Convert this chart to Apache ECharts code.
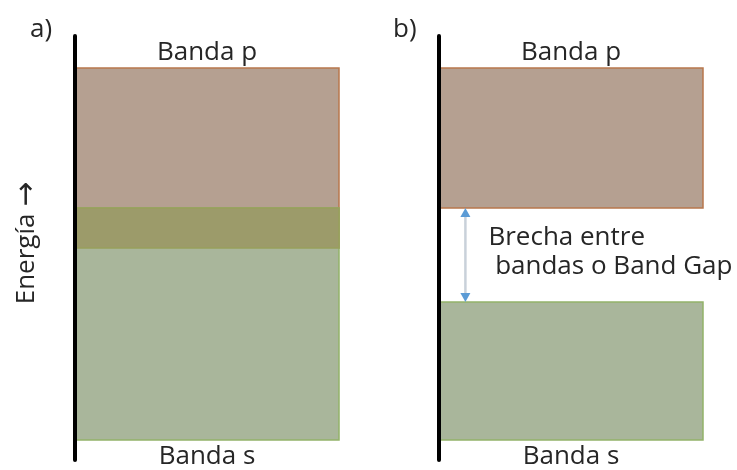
<!DOCTYPE html>
<html lang="es">
<head>
  <meta charset="UTF-8">
  <script src="https://cdn.jsdelivr.net/npm/echarts@6/dist/echarts.min.js"></script>
  <style>
    html, body { margin: 0; background: #fff; }
    #chart { width: 737px; height: 470px; }
  </style>
</head>
<body>
  <div id="chart"></div>
  <script>
    // energy axis runs 0..106 (arbitrary units), bands
    var panelNames = ['a)', 'b)'];
    var bandNames = ['Banda p', 'Banda s'];
    var pBandA = [53, 98];
    var sBandA = [5, 63];
    var pBandB = [63, 98];
    var sBandB = [5, 39.5];
    var gapLabel = 'Brecha entre\n bandas o Band Gap';
    var gapArrowX = 0.1;
    var energyName = 'Energía';

    var FONT = '"Open Sans", "DejaVu Sans", sans-serif';
    var fills = ['#B5A091', '#A9B69B', '#9C9B6A'];
    var strokes = ['#B8774C', '#93B36A', '#98A05C'];

    // kind: 0 = p band, 1 = s band, 2 = overlap, 3 = gap
    function panelData(p, s) {
      var rows = [[p[0], p[1], 0], [s[0], s[1], 1]];
      var lo = Math.max(p[0], s[0]), hi = Math.min(p[1], s[1]);
      if (hi > lo) rows.push([lo, hi, 2]);
      else rows.push([hi, lo, 3]);
      return rows;
    }

    function renderItem(params, api) {
      var lo = api.value(0), hi = api.value(1), kind = api.value(2);
      if (kind === 3) {
        var top = api.coord([gapArrowX, hi]);
        var bot = api.coord([gapArrowX, lo]);
        var x = top[0];
        var y1 = top[1], y2 = bot[1];
        var h = 9, w = 5;
        return {
          type: 'group',
          children: [
            { type: 'line', shape: { x1: x, y1: y1 + 4, x2: x, y2: y2 - 4 },
              style: { stroke: '#C9D1DA', lineWidth: 2.5 } },
            { type: 'polygon', shape: { points: [[x, y1], [x - w, y1 + h], [x + w, y1 + h]] },
              style: { fill: '#5B9BD5' } },
            { type: 'polygon', shape: { points: [[x, y2], [x - w, y2 - h], [x + w, y2 - h]] },
              style: { fill: '#5B9BD5' } },
            { type: 'text', x: x + 23, y: (y1 + y2) / 2 - 3,
              style: { text: gapLabel, font: '26px ' + FONT, fill: '#262626',
                       align: 'left', verticalAlign: 'middle', lineHeight: 29 } }
          ]
        };
      }
      var tl = api.coord([0, hi]);
      var br = api.coord([1, lo]);
      var children = [{
        type: 'rect',
        shape: { x: tl[0], y: tl[1], width: br[0] - tl[0], height: br[1] - tl[1] },
        style: { fill: fills[kind], stroke: strokes[kind], lineWidth: 1.5 }
      }];
      if (kind === 0) {
        children.push({ type: 'text', x: (tl[0] + br[0]) / 2, y: tl[1] - 15,
          style: { text: bandNames[0], font: '26px ' + FONT, fill: '#262626',
                   align: 'center', verticalAlign: 'middle' } });
      } else if (kind === 1) {
        children.push({ type: 'text', x: (tl[0] + br[0]) / 2, y: br[1] + 17,
          style: { text: bandNames[1], font: '26px ' + FONT, fill: '#262626',
                   align: 'center', verticalAlign: 'middle' } });
      }
      return { type: 'group', children: children };
    }

    var chart = echarts.init(document.getElementById('chart'), null, { renderer: 'canvas' });

    var grids = [
      { left: 75, top: 36, width: 264, height: 424 },
      { left: 439, top: 36, width: 264, height: 424 }
    ];

    var option = {
      backgroundColor: '#fff',
      animation: false,
      grid: grids,
      xAxis: [0, 1].map(function (i) {
        return { type: 'value', gridIndex: i, min: 0, max: 1, show: false };
      }),
      yAxis: [0, 1].map(function (i) {
        return {
          type: 'value', gridIndex: i, min: 0, max: 106, z: 5,
          axisLine: { show: true, lineStyle: { color: '#000', width: 4 } },
          axisTick: { show: false }, axisLabel: { show: false }, splitLine: { show: false }
        };
      }),
      series: [
        { type: 'custom', xAxisIndex: 0, yAxisIndex: 0, z: 1, renderItem: renderItem,
          data: panelData(pBandA, sBandA) },
        { type: 'custom', xAxisIndex: 1, yAxisIndex: 1, z: 1, renderItem: renderItem,
          data: panelData(pBandB, sBandB) }
      ],
      graphic: [
        { type: 'text', left: 30, top: 17,
          style: { text: panelNames[0], font: '26px ' + FONT, fill: '#262626' } },
        { type: 'text', left: 393, top: 17,
          style: { text: panelNames[1], font: '26px ' + FONT, fill: '#262626' } },
        { type: 'text', x: 27, y: 243, rotation: Math.PI / 2,
          style: {
            text: '{e|' + energyName + ' }{a|→}', fill: '#262626',
            align: 'center', verticalAlign: 'middle',
            rich: {
              e: { fontSize: 26, fontFamily: FONT, color: '#262626' },
              a: { fontSize: 30, fontFamily: '"DejaVu Sans", sans-serif', color: '#262626' }
            }
          } }
      ]
    };

    chart.setOption(option);
    window.addEventListener('resize', chart.resize);
  </script>
</body>
</html>
